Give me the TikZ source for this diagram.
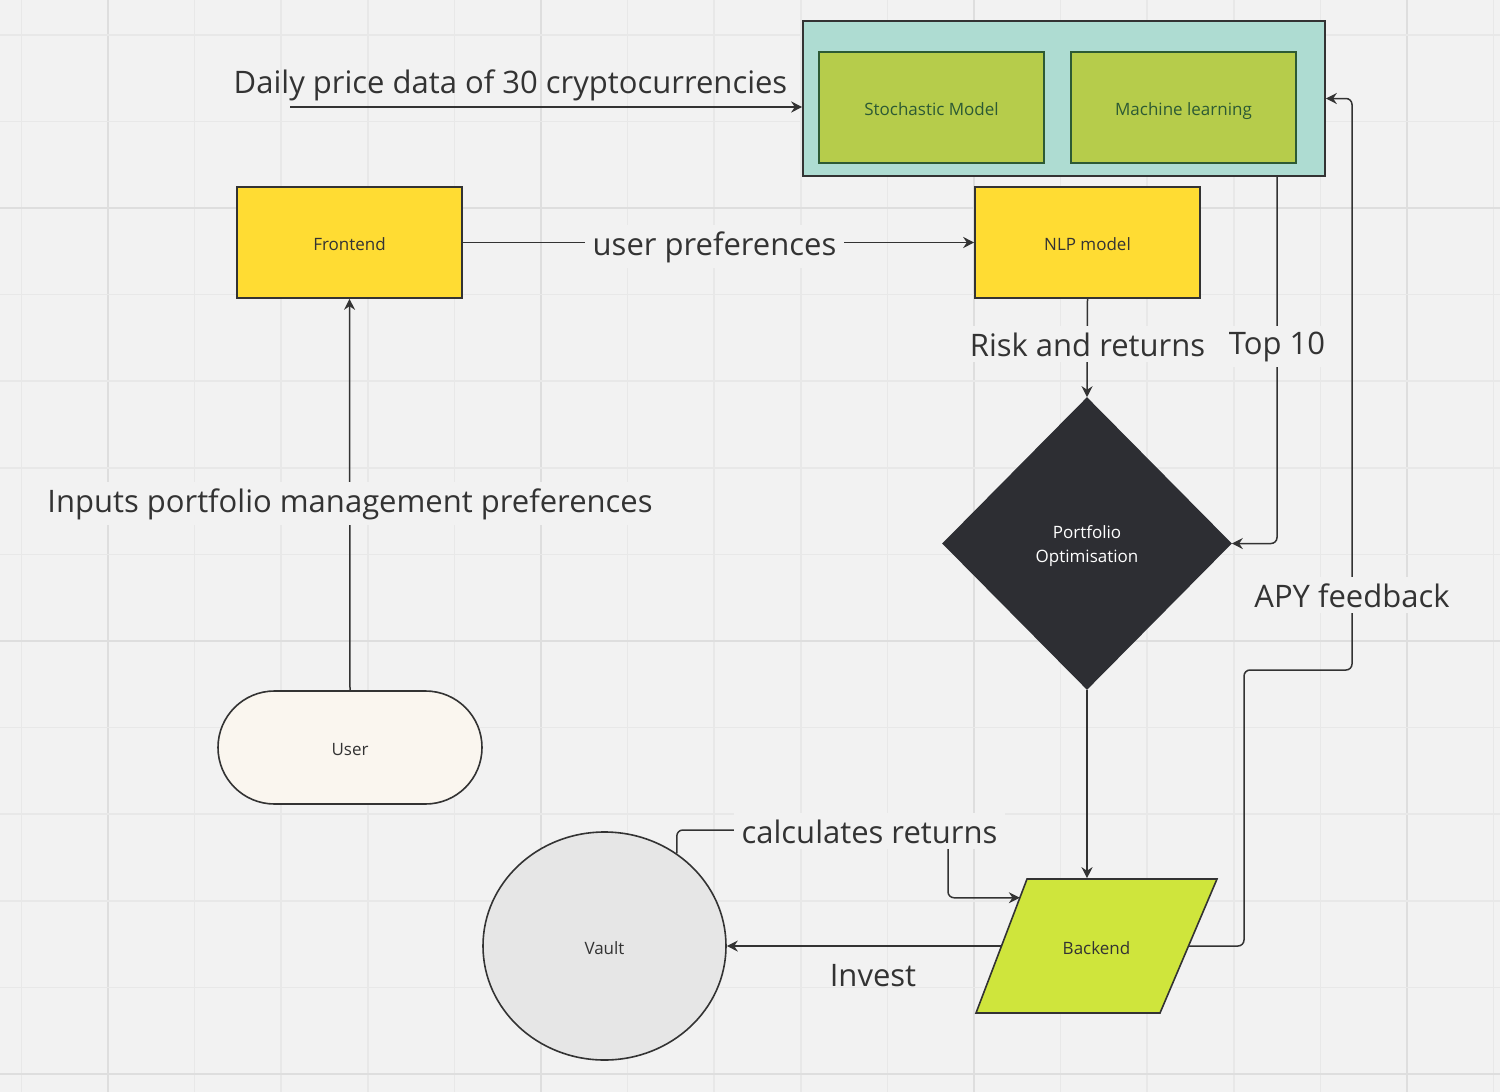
\documentclass[tikz,border=0pt]{standalone}
\usepackage{fontspec}
\setmainfont{Open Sans}
\usetikzlibrary{shapes.geometric,shapes.misc,arrows.meta,calc}
\definecolor{bgc}{HTML}{F2F2F2}
\definecolor{gridmin}{HTML}{E8E8E8}
\definecolor{gridmaj}{HTML}{DEDEDE}
\definecolor{tealc}{HTML}{AEDCD2}
\definecolor{greenc}{HTML}{B6CC4B}
\definecolor{greenb}{HTML}{2D5A34}
\definecolor{yellowc}{HTML}{FFDC33}
\definecolor{darkc}{HTML}{2D2E33}
\definecolor{creamc}{HTML}{FAF6EF}
\definecolor{vaultc}{HTML}{E6E6E6}
\definecolor{limec}{HTML}{CFE53C}
\definecolor{linec}{HTML}{333333}
\begin{document}
\begin{tikzpicture}[x=0.5pt,y=-0.5pt,
  small/.style={font=\fontsize{8.5}{12}\selectfont, text=linec, align=center},
  lbl/.style={font=\fontsize{15.5}{18}\selectfont, text=linec, inner sep=0pt},
  onl/.style={lbl, fill=bgc, inner xsep=4pt, inner ysep=3pt},
  shp/.style={small, draw=linec, line width=0.8pt, inner sep=0pt},
  one/.style={shp, text height=8pt, text depth=0pt},
  conn/.style={draw=linec, line width=0.75pt, rounded corners=3pt},
  arr/.style={conn, -{Stealth[length=5.5pt,width=5.5pt]}}]
\useasboundingbox (0,0) rectangle (1500,1092);
\fill[bgc] (0,0) rectangle (1500,1092);
\foreach \i in {-1,...,16}{
  \pgfmathtruncatemacro{\m}{mod(\i+5,5)}
  \ifnum\m=0 \draw[gridmaj,line width=1pt] ({108+86.6*\i},0) -- ({108+86.6*\i},1092);
  \else \draw[gridmin,line width=0.8pt] ({108+86.6*\i},0) -- ({108+86.6*\i},1092); \fi}
\foreach \j in {-2,...,10}{
  \pgfmathtruncatemacro{\m}{mod(\j+10,5)}
  \ifnum\m=0 \draw[gridmaj,line width=1pt] (0,{208+86.6*\j}) -- (1500,{208+86.6*\j});
  \else \draw[gridmin,line width=0.8pt] (0,{208+86.6*\j}) -- (1500,{208+86.6*\j}); \fi}

% nodes
\node[shp, fill=tealc, minimum width=261pt, minimum height=77.5pt] (cont) at (1064,98.5) {};
\node[one, fill=greenc, draw=greenb, text=greenb, minimum width=112.5pt, minimum height=55.5pt] (stoch) at (931.5,107.5) {Stochastic Model};
\node[one, fill=greenc, draw=greenb, text=greenb, minimum width=112.5pt, minimum height=55.5pt] (ml) at (1183.5,107.5) {Machine learning};
\node[one, fill=yellowc, minimum width=112.5pt, minimum height=55.5pt] (front) at (349.5,242.5) {Frontend};
\node[one, fill=yellowc, minimum width=112.5pt, minimum height=55.5pt] (nlp) at (1087.5,242.5) {NLP model};
\node[shp, diamond, aspect=1, fill=darkc, draw=darkc, minimum width=144pt, minimum height=145.5pt] (port) at (1087,543.5) {};
\node[small, text=white, inner sep=0pt] (porttxt) at (1087,546.5) {Portfolio\\Optimisation};
\node[one, rounded rectangle, fill=creamc, minimum width=132pt, minimum height=56.5pt] (user) at (350,747.5) {User};
\node[one, ellipse, fill=vaultc, minimum width=121.5pt, minimum height=114pt] (vault) at (604.5,946) {Vault};
% backend parallelogram
\coordinate (btl) at (1027,879);
\coordinate (btr) at (1217,879);
\coordinate (bbr) at (1160,1013);
\coordinate (bbl) at (976,1013);
\fill[limec] (btl) -- (btr) -- (bbr) -- (bbl) -- cycle;
\draw[linec, line width=0.8pt, line join=miter] (btl) -- (btr) -- (bbr) -- (bbl) -- cycle;
\node[one, draw=none, minimum width=60pt, minimum height=67pt] (back) at (1096.5,946) {Backend};
\coordinate (bleft) at ($(btl)!0.5!(bbl)$);
\coordinate (bright) at ($(btr)!0.5!(bbr)$);
\coordinate (bl) at ($(btl)!0.14!(bbl)$);

\coordinate (dstart) at (290,107);

% connectors
\draw[arr] (dstart) -- (cont.west |- dstart);
\draw[arr] (front.east) -- (nlp.west);
\draw[arr] (user.north) -- (front.south);
\draw[arr] (nlp.south) -- (port.north);
\draw[arr] (1277,176) |- (port.east);
\draw[arr] (port.south) -- (back.north -| port.south);
\draw[arr] (bright) -| (1244,670) -| (1352,98.5) -- (cont.east);
\draw[arr] (bleft) -- (vault.east);
\draw[arr] (vault.52) |- (948,830) |- (bl);

% labels
\node[lbl, anchor=base] (ldaily) at (510.5,93) {Daily price data of 30 cryptocurrencies};
\node[onl, anchor=base] (lpref) at (714.5,255) {user preferences};
\node[onl, anchor=base] (linput) at (350,512) {Inputs portfolio management preferences};
\node[onl, anchor=base] (lrisk) at (1087.5,356) {Risk and returns};
\node[onl, anchor=base] (ltop) at (1277,354) {Top 10};
\node[onl, anchor=base] (lapy) at (1352,607) {APY feedback};
\node[onl, anchor=base] (lcalc) at (869.5,843) {calculates returns};
\node[lbl, anchor=base] (linvest) at (873,986) {Invest};
\end{tikzpicture}
\end{document}
